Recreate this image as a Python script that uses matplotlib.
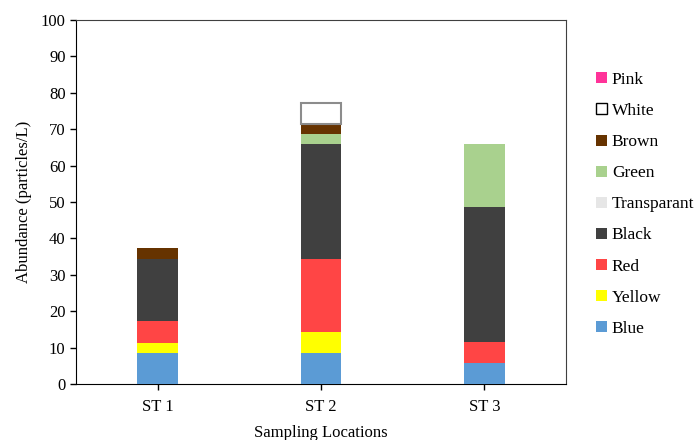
import numpy as np
import matplotlib.pyplot as plt
from matplotlib.patches import Patch

plt.rcParams['font.family'] = ['Liberation Serif', 'DejaVu Serif']

locations = ["ST 1", "ST 2", "ST 3"]
colors_names = ["Blue", "Yellow", "Red", "Black", "Transparant", "Green", "Brown", "White", "Pink"]
blue = [8.4, 8.4, 5.7]
yellow = [2.9, 5.8, 0.0]
red = [5.9, 20.1, 5.8]
black = [17.1, 31.5, 37.0]
transparant = [0.0, 0.0, 0.0]
green = [0.0, 2.9, 17.3]
brown = [3.0, 2.8, 0.0]
white = [0.0, 5.6, 0.0]
pink = [0.0, 0.0, 0.0]

series = [blue, yellow, red, black, transparant, green, brown, white, pink]
fills = ["#5B9BD5", "#FFFF00", "#FF4545", "#404040", "#E6E6E6",
         "#A9D18E", "#663300", "#FFFFFF", "#FF3399"]
edges = [None] * 7 + ["#8C8C8C", None]

fig = plt.figure(figsize=(6.97, 4.4), dpi=100)
ax = fig.add_axes([76 / 697, 56 / 440, 490 / 697, 364 / 440])

x = np.arange(len(locations))
bottom = np.zeros(len(locations))
for vals, fc, ec in zip(series, fills, edges):
    vals = np.array(vals)
    for i in range(len(x)):
        if vals[i] <= 0:
            continue
        if ec:
            ax.bar(x[i], vals[i], 0.25, bottom=bottom[i], color=fc, edgecolor=ec,
                   linewidth=1.5, zorder=3)
        else:
            ax.bar(x[i], vals[i], 0.25, bottom=bottom[i], color=fc, zorder=3)
    bottom += vals

ax.set_xlim(-0.5, 2.5)
ax.set_ylim(0, 100)
ax.set_yticks(range(0, 101, 10))
ax.set_xticks(x)
ax.set_xticklabels(locations)
ax.tick_params(axis="both", labelsize=12, direction="out", length=4, width=1, colors="black")
ax.tick_params(axis="x", pad=7)
ax.set_xlabel("Sampling Locations", fontsize=12, labelpad=7)
ax.set_ylabel("Abundance (particles/L)", fontsize=12, labelpad=6)
for s in ["left", "bottom"]:
    ax.spines[s].set_color("black")
for s in ["top", "right"]:
    ax.spines[s].set_color("#404040")

handles = []
for name, fc, ec in zip(colors_names, fills, edges):
    handles.append(Patch(facecolor=fc, edgecolor=ec if ec else fc,
                         linewidth=1.0 if ec else 0, label=name))
handles = handles[::-1]
for h in handles:
    if h.get_label() == "White":
        h.set_edgecolor("black")
fig.legend(handles=handles, loc="upper left", bbox_to_anchor=(0.833, 0.872),
           frameon=False, fontsize=12.5, handlelength=0.6, handleheight=0.6,
           handletextpad=0.3, labelspacing=0.87)

fig.savefig("out.png", dpi=100)
